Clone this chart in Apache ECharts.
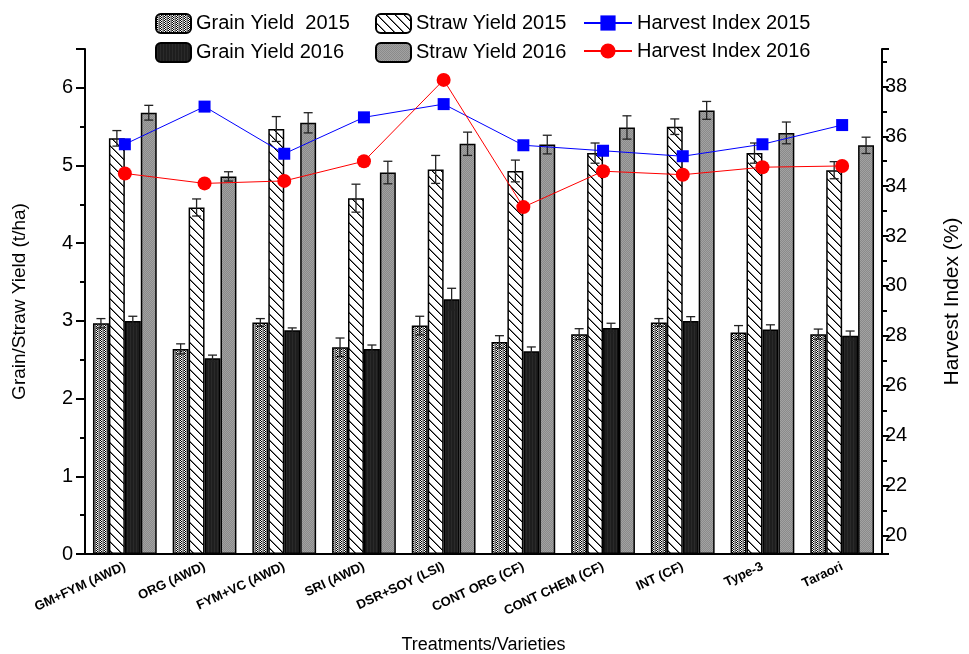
<!DOCTYPE html>
<html>
<head>
<meta charset="utf-8">
<script src="https://cdn.jsdelivr.net/npm/echarts@6/dist/echarts.min.js"></script>
<style>html,body{margin:0;padding:0;background:#fff;}#chart{width:969px;height:654px;}</style>
</head>
<body>
<div id="chart"></div>
<script>
const categories = ['GM+FYM (AWD)','ORG (AWD)','FYM+VC (AWD)','SRI (AWD)','DSR+SOY (LSI)','CONT ORG (CF)','CONT CHEM (CF)','INT (CF)','Type-3','Taraori'];
const grain2015 = [2.97,2.64,2.98,2.66,2.94,2.73,2.83,2.98,2.85,2.83];
const grain2015Err = [0.06,0.065,0.05,0.12,0.12,0.08,0.07,0.05,0.09,0.065];
const straw2015 = [5.35,4.46,5.47,4.58,4.95,4.93,5.16,5.50,5.16,4.94];
const straw2015Err = [0.10,0.11,0.16,0.18,0.18,0.14,0.13,0.10,0.13,0.11];
const grain2016 = [3.00,2.52,2.88,2.64,3.28,2.61,2.91,3.00,2.89,2.81];
const grain2016Err = [0.06,0.04,0.03,0.05,0.14,0.055,0.06,0.055,0.06,0.06];
const straw2016 = [5.68,4.86,5.55,4.91,5.28,5.27,5.49,5.71,5.42,5.26];
const straw2016Err = [0.095,0.06,0.13,0.145,0.15,0.12,0.15,0.115,0.14,0.105];
const hi2015 = [35.68,37.19,35.30,36.76,37.29,35.64,35.42,35.20,35.68,36.45];
const hi2016 = [34.51,34.11,34.21,35.00,38.26,33.16,34.60,34.46,34.76,34.81];

const FONT = 'Liberation Sans, Arial, sans-serif';

function makeCanvas(w, h, draw) {
  const c = document.createElement('canvas');
  c.width = w; c.height = h;
  const ctx = c.getContext('2d');
  draw(ctx, w, h);
  return c;
}
function px(ctx, x, y, col) { ctx.fillStyle = col; ctx.fillRect(x, y, 1, 1); }

const patGrain15 = makeCanvas(4, 2, (ctx) => {
  ctx.fillStyle = '#ffffff'; ctx.fillRect(0, 0, 4, 2);
  px(ctx, 0, 0, '#000'); px(ctx, 1, 1, '#000');
  px(ctx, 2, 0, '#a0a0a0'); px(ctx, 2, 1, '#a0a0a0');
  px(ctx, 3, 0, '#707070'); px(ctx, 3, 1, '#707070');
});
const patStraw15 = makeCanvas(9, 9, (ctx) => {
  ctx.fillStyle = '#ffffff'; ctx.fillRect(0, 0, 9, 9);
  for (let x = 0; x < 9; x++) {
    for (let y = 0; y < 9; y++) {
      const d = ((x - y) % 9 + 9) % 9;
      if (d === 0) px(ctx, x, y, '#000');
      else if (d === 1) px(ctx, x, y, '#777');
    }
  }
});
const patGrain16 = makeCanvas(3, 2, (ctx) => {
  ctx.fillStyle = '#1e1e1e'; ctx.fillRect(0, 0, 3, 2);
  ctx.fillStyle = '#2a2a2a'; ctx.fillRect(1, 0, 1, 2);
});
const patStraw16 = makeCanvas(2, 2, (ctx) => {
  ctx.fillStyle = '#8a8a8a'; ctx.fillRect(0, 0, 2, 2);
  px(ctx, 0, 0, '#a2a2a2'); px(ctx, 1, 1, '#a2a2a2');
});

function barSeries(name, data, pat) {
  return {
    name: name, type: 'bar', data: data, xAxisIndex: 0, yAxisIndex: 0,
    barGap: '0%', barCategoryGap: '20%',
    itemStyle: { color: { image: pat, repeat: 'repeat' }, borderColor: '#000', borderWidth: 1.5 },
    emphasis: { disabled: true }, z: 2
  };
}
function errSeries(values, errs, k) {
  return {
    type: 'custom', xAxisIndex: 0, yAxisIndex: 0, z: 3, silent: true,
    data: values.map((v, i) => [i, v, errs[i]]),
    encode: { x: 0, y: 1 },
    renderItem: function (params, api) {
      const i = api.value(0), v = api.value(1), e = api.value(2);
      const c = api.coord([i, v]);
      const band = api.size([1, 0])[0];
      const bw = band * 0.8 / 4;
      const x = c[0] + (k - 1.5) * bw;
      const yt = api.coord([i, v + e])[1];
      const yb = api.coord([i, v - e])[1];
      const cap = 4.5;
      const st = { stroke: '#222', lineWidth: 1.3 };
      return { type: 'group', children: [
        { type: 'line', shape: { x1: x, y1: yt, x2: x, y2: yb }, style: st },
        { type: 'line', shape: { x1: x - cap, y1: yt, x2: x + cap, y2: yt }, style: st },
        { type: 'line', shape: { x1: x - cap, y1: yb, x2: x + cap, y2: yb }, style: st }
      ]};
    }
  };
}

const chart = echarts.init(document.getElementById('chart'), null, { renderer: 'canvas' });
const legendText = { fontFamily: FONT, fontSize: 20, color: '#000' };
const option = {
  animation: false,
  backgroundColor: '#fff',
  grid: { left: 85, right: 87, top: 49, bottom: 100, containLabel: false, outerBoundsMode: 'none' },
  legend: [
    { left: 150, top: 8, orient: 'vertical', itemGap: 8, itemWidth: 35, itemHeight: 19, textStyle: legendText,
      data: ['Grain Yield  2015', 'Grain Yield 2016'], selectedMode: false },
    { left: 370, top: 8, orient: 'vertical', itemGap: 8, itemWidth: 35, itemHeight: 19, textStyle: legendText,
      data: ['Straw Yield 2015', 'Straw Yield 2016'], selectedMode: false },
    { left: 578, top: 8, orient: 'vertical', itemGap: 8, itemWidth: 48, itemHeight: 19, textStyle: legendText,
      data: ['Harvest Index 2015', 'Harvest Index 2016'], selectedMode: false }
  ],
  xAxis: [
    { type: 'category', data: categories, position: 'bottom', boundaryGap: true,
      name: 'Treatments/Varieties', nameLocation: 'middle', nameGap: 82,
      nameTextStyle: { fontFamily: FONT, fontSize: 18, color: '#000' },
      axisLine: { lineStyle: { color: '#000', width: 2 } },
      axisTick: { alignWithLabel: true, length: 9, lineStyle: { color: '#000', width: 2 } },
      axisLabel: { rotate: 25, interval: 0, margin: 12, fontFamily: FONT, fontSize: 13, fontWeight: 'bold', color: '#000' },
      splitLine: { show: false } },
    { type: 'category', data: categories, position: 'bottom', boundaryGap: true,
      axisLine: { show: false },
      axisTick: { length: 5, lineStyle: { color: '#000', width: 2 } },
      axisLabel: { show: false }, splitLine: { show: false } }
  ],
  yAxis: [
    { type: 'value', min: 0, max: 6.5, interval: 1, position: 'left',
      name: 'Grain/Straw Yield (t/ha)', nameLocation: 'middle', nameGap: 56,
      nameTextStyle: { fontFamily: FONT, fontSize: 19, color: '#000' },
      axisLine: { show: true, lineStyle: { color: '#000', width: 2 } },
      axisTick: { show: true, length: 9, lineStyle: { color: '#000', width: 2 } },
      minorTick: { show: true, splitNumber: 2, length: 5, lineStyle: { color: '#000', width: 2 } },
      axisLabel: { fontFamily: FONT, fontSize: 20, color: '#000', margin: 12, showMaxLabel: false },
      splitLine: { show: false } },
    { type: 'value', min: 19.25, max: 39.5, splitNumber: 10, position: 'right',
      name: 'Harvest Index (%)', nameLocation: 'middle', nameGap: 60,
      nameTextStyle: { fontFamily: FONT, fontSize: 21, color: '#000' },
      axisLine: { show: true, lineStyle: { color: '#000', width: 2 } },
      axisTick: { show: true, length: 7, lineStyle: { color: '#000', width: 2 } },
      minorTick: { show: true, splitNumber: 2, length: 5, lineStyle: { color: '#000', width: 2 } },
      axisLabel: { fontFamily: FONT, fontSize: 20, color: '#000', margin: 3, showMinLabel: false, showMaxLabel: false },
      splitLine: { show: false } }
  ],
  series: [
    barSeries('Grain Yield  2015', grain2015, patGrain15),
    barSeries('Straw Yield 2015', straw2015, patStraw15),
    barSeries('Grain Yield 2016', grain2016, patGrain16),
    barSeries('Straw Yield 2016', straw2016, patStraw16),
    errSeries(grain2015, grain2015Err, 0),
    errSeries(straw2015, straw2015Err, 1),
    errSeries(grain2016, grain2016Err, 2),
    errSeries(straw2016, straw2016Err, 3),
    { name: 'Harvest Index 2015', type: 'line', data: hi2015, xAxisIndex: 0, yAxisIndex: 1,
      symbol: 'rect', symbolSize: 12, itemStyle: { color: '#0000ff' },
      lineStyle: { color: '#0000ff', width: 1 }, z: 5, emphasis: { disabled: true } },
    { name: 'Harvest Index 2016', type: 'line', data: hi2016, xAxisIndex: 0, yAxisIndex: 1,
      symbol: 'circle', symbolSize: 14, itemStyle: { color: '#ff0000' },
      lineStyle: { color: '#ff0000', width: 1 }, z: 5, emphasis: { disabled: true } }
  ]
};
chart.setOption(option);
</script>
</body>
</html>
